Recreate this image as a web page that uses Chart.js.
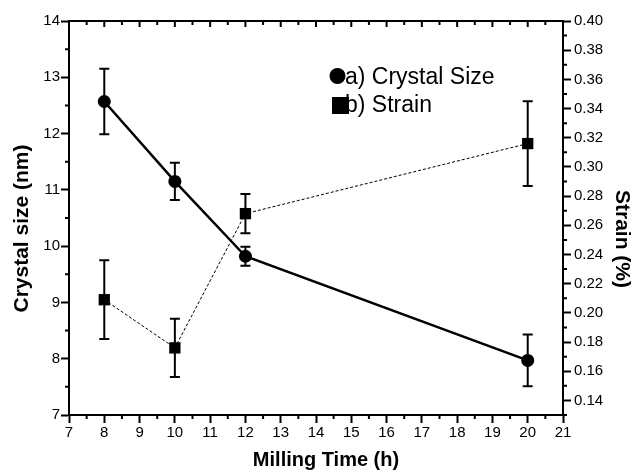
<!DOCTYPE html>
<html>
<head>
<meta charset="utf-8">
<script src="https://cdn.jsdelivr.net/npm/chart.js@4/dist/chart.umd.min.js"></script>
<style>
  html, body { margin:0; padding:0; background:#fff; }
  #wrap { width:632px; height:472px; }
</style>
</head>
<body>
<div id="wrap"><canvas id="chart" width="632" height="472"></canvas></div>
<script>
// data
const millTime   = [8, 10, 12, 20];
const crystal    = [12.57, 11.15, 9.82, 7.97];
const crystalErr = [0.58, 0.33, 0.17, 0.46];
const strain     = [0.209, 0.176, 0.268, 0.316];
const strainErr  = [0.027, 0.020, 0.0135, 0.029];

const xTicks     = [7, 8, 9, 10, 11, 12, 13, 14, 15, 16, 17, 18, 19, 20, 21];
const leftTicks  = [7, 8, 9, 10, 11, 12, 13, 14];
const rightTicks = [0.14, 0.16, 0.18, 0.20, 0.22, 0.24, 0.26, 0.28, 0.30, 0.32, 0.34, 0.36, 0.38, 0.40];

const FONT = '"Liberation Sans", Arial, Helvetica, sans-serif';
const EM = '\u2003'; // em space, nudges a title off the axis centre like the original
const pts = (xs, ys) => xs.map((x, i) => ({ x, y: ys[i] }));
const fixTicks = arr => scale => { scale.ticks = arr.map(v => ({ value: v })); };

// error bars, drawn under the markers
const errorBars = {
  id: 'errorBars',
  beforeDatasetsDraw(chart){
    const ctx = chart.ctx;
    chart.data.datasets.forEach(ds => {
      const ys = chart.scales[ds.yAxisID];
      const xs = chart.scales.x;
      ctx.save();
      ctx.strokeStyle = '#000'; ctx.lineWidth = 2;
      ds.data.forEach((p, i) => {
        const e = ds.errs[i];
        const px = xs.getPixelForValue(p.x);
        const top = ys.getPixelForValue(p.y + e), bot = ys.getPixelForValue(p.y - e);
        ctx.beginPath();
        ctx.moveTo(px, top); ctx.lineTo(px, bot);
        ctx.moveTo(px - 5, top); ctx.lineTo(px + 5, top);
        ctx.moveTo(px - 5, bot); ctx.lineTo(px + 5, bot);
        ctx.stroke();
      });
      ctx.restore();
    });
  }
};

// top frame line, minor ticks and the inward ticks on top
const frame = {
  id: 'frame',
  afterDraw(chart){
    const { ctx, chartArea: a, scales } = chart;
    const x = scales.x, yl = scales.y, yr = scales.y1;
    ctx.save();
    ctx.strokeStyle = '#000'; ctx.lineWidth = 2;
    ctx.beginPath();
    ctx.moveTo(a.left - 1, a.top); ctx.lineTo(a.right + 1, a.top);
    ctx.stroke();
    ctx.beginPath();
    const mids = t => t.slice(1).map((v, i) => (v + t[i]) / 2);
    mids(xTicks).forEach(v => { const p = x.getPixelForValue(v); ctx.moveTo(p, a.bottom); ctx.lineTo(p, a.bottom + 4); });
    xTicks.forEach(v => { const p = x.getPixelForValue(v); ctx.moveTo(p, a.top); ctx.lineTo(p, a.top + 6); });
    mids(xTicks).forEach(v => { const p = x.getPixelForValue(v); ctx.moveTo(p, a.top); ctx.lineTo(p, a.top + 4); });
    mids(leftTicks).forEach(v => { const p = yl.getPixelForValue(v); ctx.moveTo(a.left, p); ctx.lineTo(a.left - 4, p); });
    [rightTicks[0] - 0.01].concat(mids(rightTicks)).forEach(v => { const p = yr.getPixelForValue(v); ctx.moveTo(a.right, p); ctx.lineTo(a.right + 4, p); });
    ctx.stroke();
    ctx.restore();
  }
};

// legend inside the plot
const innerLegend = {
  id: 'innerLegend',
  afterDraw(chart){
    const ctx = chart.ctx;
    const rows = [78, 106];
    ctx.save();
    ctx.fillStyle = '#000';
    ctx.font = '23px ' + FONT;
    ctx.textBaseline = 'middle';
    chart.data.datasets.forEach((ds, i) => ctx.fillText(ds.label, 345, rows[i]));
    ctx.beginPath(); ctx.arc(337.5, 76, 8, 0, Math.PI * 2); ctx.fill();
    ctx.fillRect(332, 97, 17, 17);
    ctx.restore();
  }
};

const axisCommon = {
  border: { display:true, color:'#000', width:2 },
  grid: { drawOnChartArea:false, drawTicks:true, tickLength:8, tickWidth:2, tickColor:'#000' },
};

new Chart(document.getElementById('chart'), {
  type: 'line',
  data: {
    datasets: [
      { label:'a) Crystal Size', data: pts(millTime, crystal), errs: crystalErr, yAxisID:'y',
        borderColor:'#000', backgroundColor:'#000', borderWidth:2.5,
        pointStyle:'circle', pointRadius:6.5, pointBorderWidth:0, tension:0 },
      { label:'b) Strain', data: pts(millTime, strain), errs: strainErr, yAxisID:'y1',
        borderColor:'#000', backgroundColor:'#000', borderWidth:1, borderDash:[3,2],
        pointStyle:'rect', pointRadius:8, pointBorderWidth:0, tension:0 }
    ]
  },
  options: {
    responsive:false, animation:false, devicePixelRatio:1,
    layout: { padding: { top:21, left:0, right:0, bottom:0 } },
    plugins: { legend:{ display:false }, tooltip:{ enabled:false } },
    scales: {
      x: { ...axisCommon, type:'linear', position:'bottom', min:7, max:21,
        afterBuildTicks: fixTicks(xTicks),
        afterFit: s => { s.height = 57; },
        ticks: { color:'#000', font:{ family:FONT, size:15 }, padding:1, maxRotation:0, autoSkip:false },
        title: { display:true, text: EM + 'Milling Time (h)', color:'#000',
          font:{ family:FONT, size:20, weight:'bold', lineHeight:1 }, padding:{ top:0, bottom:2 } } },
      y: { ...axisCommon, type:'linear', position:'left', min:7, max:14,
        afterBuildTicks: fixTicks(leftTicks),
        afterFit: s => { s.width = 69; },
        ticks: { color:'#000', font:{ family:FONT, size:15 }, padding:1 },
        title: { display:true, text:'Crystal size (nm)' + EM, color:'#000',
          font:{ family:FONT, size:21, weight:'bold', lineHeight:1 }, padding:{ top:12, bottom:0 } } },
      y1: { ...axisCommon, type:'linear', position:'right', min:0.13, max:0.40,
        afterBuildTicks: fixTicks(rightTicks),
        afterFit: s => { s.width = 69; },
        ticks: { color:'#000', font:{ family:FONT, size:15 }, padding:3, callback: v => v.toFixed(2) },
        title: { display:true, text: EM + EM + 'Strain (%)', color:'#000',
          font:{ family:FONT, size:21, weight:'bold', lineHeight:1 }, padding:{ top:0, bottom:0 } } }
    }
  },
  plugins: [errorBars, frame, innerLegend]
});
</script>
</body>
</html>
